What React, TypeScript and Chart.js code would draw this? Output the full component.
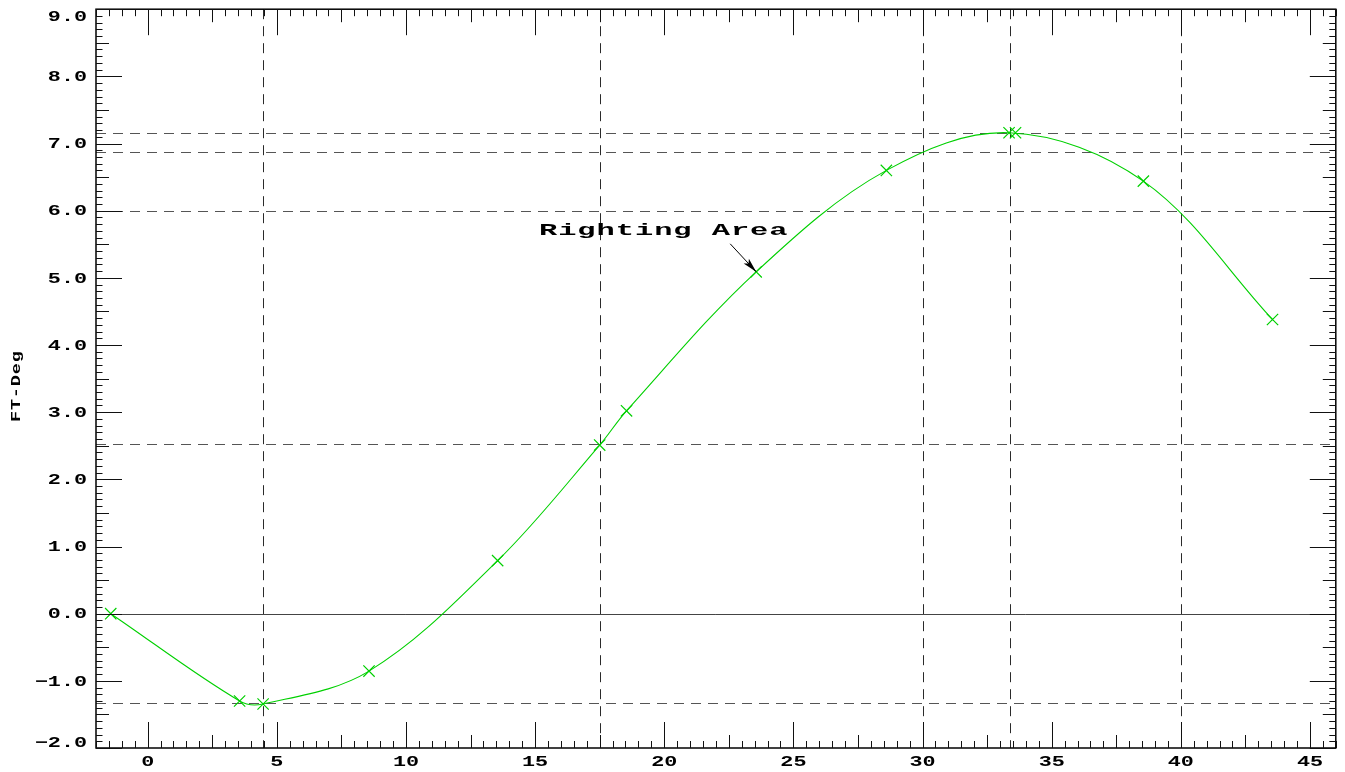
import React, { useEffect, useRef } from "react";
import { Chart, registerables } from "chart.js";

Chart.register(...registerables);

// ---- data ----
const heelAngles = [-1.43, 3.56, 4.47, 8.57, 13.55, 17.5, 18.54, 23.56, 28.6, 33.35, 38.55, 43.55];
const ftDegValues = [0, -1.3, -1.345, -0.855, 0.79, 2.51, 3.02, 5.09, 6.6, 7.16, 6.44, 4.38];
const maxMarkerAngle = [33.6];
const maxMarkerValue = [7.16];

const xMin = -2;
const xMax = 46;
const yMin = -2;
const yMax = 9;
const xTickValues = [0, 5, 10, 15, 20, 25, 30, 35, 40, 45];
const yTickValues = [-2, -1, 0, 1, 2, 3, 4, 5, 6, 7, 8, 9];
const xTickLabels = ["0", "5", "10", "15", "20", "25", "30", "35", "40", "45"];
const yTickLabels = ["\u22122.0", "\u22121.0", "0.0", "1.0", "2.0", "3.0", "4.0", "5.0", "6.0", "7.0", "8.0", "9.0"];

const verticalRefLines = [4.47, 17.5, 30, 33.4, 40];
const horizontalRefLines = [7.16, 6.87, 6.0, 2.52, -1.33];

const yAxisTitle = "FT-Deg";
const annotationText = "Righting Area";
const annotationTipX = 23.56;
const annotationTipY = 5.09;
const annotationTextX = 15.15;
const annotationTextY = 5.64;

function drawStretched(ctx: CanvasRenderingContext2D, text: string, x: number, y: number, sx: number, align: "left" | "right" | "center", spacing: number) {
  ctx.save();
  (ctx as any).letterSpacing = spacing + "px";
  const w = ctx.measureText(text).width - spacing;
  ctx.translate(x, y);
  ctx.scale(sx, 1);
  ctx.textAlign = "left";
  let ox = 0;
  if (align === "right") ox = -w;
  else if (align === "center") ox = -w / 2;
  ctx.fillText(text, ox, 0);
  ctx.restore();
}

const idlPlugin = {
  id: "idlDecor",
  beforeDatasetsDraw(chart: any) {
    const { ctx, chartArea: a, scales } = chart;
    const xs = scales.x;
    const ys = scales.y;
    ctx.save();
    ctx.lineWidth = 1;
    ctx.strokeStyle = "#2a2a2a";
    ctx.setLineDash([10, 7]);
    verticalRefLines.forEach((v) => {
      const px = Math.round(xs.getPixelForValue(v)) + 0.5;
      ctx.beginPath();
      ctx.moveTo(px, a.top);
      ctx.lineTo(px, a.bottom);
      ctx.stroke();
    });
    ctx.strokeStyle = "#555";
    horizontalRefLines.forEach((v) => {
      const py = Math.round(ys.getPixelForValue(v)) + 0.5;
      ctx.beginPath();
      ctx.moveTo(a.left, py);
      ctx.lineTo(a.right, py);
      ctx.stroke();
    });
    ctx.setLineDash([]);
    ctx.strokeStyle = "#444";
    const p0 = Math.round(ys.getPixelForValue(0)) + 0.5;
    ctx.beginPath();
    ctx.moveTo(a.left, p0);
    ctx.lineTo(a.right, p0);
    ctx.stroke();
    ctx.restore();
  },
  afterDraw(chart: any) {
    const { ctx, chartArea: a, scales } = chart;
    const xs = scales.x;
    const ys = scales.y;
    ctx.save();
    // frame
    ctx.strokeStyle = "#000";
    ctx.lineWidth = 1.5;
    ctx.strokeRect(a.left, a.top, a.right - a.left, a.bottom - a.top);
    // ticks
    ctx.lineWidth = 1;
    ctx.strokeStyle = "#111";
    for (let i = Math.ceil(xMin * 2); i <= Math.floor(xMax * 2); i++) {
      const v = i / 2;
      const px = Math.round(xs.getPixelForValue(v)) + 0.5;
      const len = i % 10 === 0 ? 26 : i % 5 === 0 ? 13 : 7;
      ctx.beginPath();
      ctx.moveTo(px, a.bottom);
      ctx.lineTo(px, a.bottom - len);
      ctx.moveTo(px, a.top);
      ctx.lineTo(px, a.top + len);
      ctx.stroke();
    }
    for (let i = Math.ceil(yMin * 10); i <= Math.floor(yMax * 10); i++) {
      const v = i / 10;
      const py = Math.round(ys.getPixelForValue(v)) + 0.5;
      const len = i % 10 === 0 ? 26 : i % 5 === 0 ? 13 : 6.5;
      ctx.beginPath();
      ctx.moveTo(a.left, py);
      ctx.lineTo(a.left + len, py);
      ctx.moveTo(a.right, py);
      ctx.lineTo(a.right - len, py);
      ctx.stroke();
    }
    // tick labels
    ctx.fillStyle = "#000";
    ctx.font = 'bold 15px "Liberation Mono"';
    ctx.textBaseline = "middle";
    yTickValues.forEach((v, k) => {
      let py = ys.getPixelForValue(v);
      py = Math.min(Math.max(py, a.top + 7), a.bottom - 6);
      drawStretched(ctx, yTickLabels[k], a.left - 9, py + 1, 1.45, "right", 0);
    });
    xTickValues.forEach((v, k) => {
      const px = xs.getPixelForValue(v);
      drawStretched(ctx, xTickLabels[k], px, a.bottom + 14, 1.45, "center", 0);
    });
    // y title
    ctx.save();
    ctx.font = 'bold 12px "Liberation Mono"';
    ctx.translate(17, (a.top + a.bottom) / 2 + 8);
    ctx.rotate(-Math.PI / 2);
    drawStretched(ctx, yAxisTitle, 0, 0, 1.55, "center", 0.5);
    ctx.restore();
    // annotation
    ctx.font = 'bold 16px "Liberation Mono"';
    ctx.textBaseline = "alphabetic";
    drawStretched(ctx, annotationText, xs.getPixelForValue(annotationTextX), ys.getPixelForValue(annotationTextY), 1.9, "left", 0.5);
    const tx = xs.getPixelForValue(annotationTipX);
    const ty = ys.getPixelForValue(annotationTipY);
    const sx = tx - 26;
    const sy = ty - 28;
    ctx.strokeStyle = "#000";
    ctx.lineWidth = 1;
    ctx.beginPath();
    ctx.moveTo(sx, sy);
    ctx.lineTo(tx, ty);
    ctx.stroke();
    const ang = Math.atan2(ty - sy, tx - sx);
    const hl = 15;
    const hw = 0.24;
    ctx.beginPath();
    ctx.moveTo(tx, ty);
    ctx.lineTo(tx - hl * Math.cos(ang - hw), ty - hl * Math.sin(ang - hw));
    ctx.lineTo(tx - hl * 0.75 * Math.cos(ang), ty - hl * 0.75 * Math.sin(ang));
    ctx.lineTo(tx - hl * Math.cos(ang + hw), ty - hl * Math.sin(ang + hw));
    ctx.closePath();
    ctx.fillStyle = "#000";
    ctx.fill();
    ctx.restore();
  },
};

export default function App() {
  const ref = useRef<HTMLCanvasElement | null>(null);
  useEffect(() => {
    if (!ref.current) return;
    const points = heelAngles.map((x, i) => ({ x, y: ftDegValues[i] }));
    const maxPoints = maxMarkerAngle.map((x, i) => ({ x, y: maxMarkerValue[i] }));
    const markerStyle = {
      pointStyle: "crossRot",
      pointRadius: 8,
      pointHoverRadius: 8,
      pointBorderColor: "#00d000",
      pointBackgroundColor: "#00d000",
      pointBorderWidth: 1.2,
    };
    const chart = new Chart(ref.current, {
      type: "scatter",
      data: {
        datasets: [
          {
            data: points,
            showLine: true,
            borderColor: "#00d000",
            borderWidth: 1.1,
            tension: 0.35,
            ...markerStyle,
          } as any,
          {
            data: maxPoints,
            showLine: false,
            ...markerStyle,
          } as any,
        ],
      },
      options: {
        animation: false,
        responsive: true,
        maintainAspectRatio: false,
        layout: { padding: { top: 9, right: 7, left: 0, bottom: 0 } },
        plugins: { legend: { display: false }, tooltip: { enabled: false } },
        events: [],
        scales: {
          x: {
            type: "linear",
            min: xMin,
            max: xMax,
            grid: { display: false },
            border: { display: false },
            ticks: { display: false },
            afterFit: (s: any) => {
              s.height = 24;
            },
          },
          y: {
            type: "linear",
            min: yMin,
            max: yMax,
            grid: { display: false },
            border: { display: false },
            ticks: { display: false },
            afterFit: (s: any) => {
              s.width = 96;
            },
          },
        },
      },
      plugins: [idlPlugin],
    });
    return () => chart.destroy();
  }, []);
  return (
    <div style={{ position: "absolute", left: 0, top: 0, width: 1345, height: 772, background: "#fff" }}>
      <canvas ref={ref} />
    </div>
  );
}
